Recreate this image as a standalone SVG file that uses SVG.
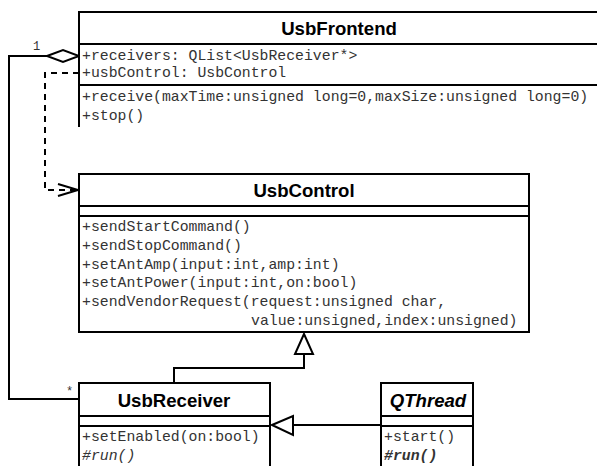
<svg xmlns="http://www.w3.org/2000/svg" width="597" height="466" viewBox="0 0 597 466">
<style>
.box{fill:#fff;stroke:#000;stroke-width:2}
.sep{stroke:#000;stroke-width:2}
.title{font-family:"Liberation Sans",Arial,sans-serif;font-weight:bold;font-size:18.6px;text-anchor:middle;fill:#000}
.mono{font-family:"Liberation Mono","Courier New",monospace;font-size:14.8px;fill:#333}
.lbl{font-family:"Liberation Mono","Courier New",monospace;font-size:12px;fill:#333}
.conn{fill:none;stroke:#000;stroke-width:2}
.head{fill:#fff;stroke:#000;stroke-width:2}
</style>
<rect width="597" height="466" fill="#fff"/>
<g id="connectors">
<polyline class="conn" points="79,399 9,399 9,56 47,56"/>
<polygon class="head" points="47,56 63,50 79,56 63,62"/>
<path class="conn" d="M79,73 H45 V190 H77" stroke-dasharray="6,5"/>
<polyline class="conn" points="58,184 78,190 58,196"/>
<polyline class="conn" points="174,383 174,368 304,368 304,354"/>
<polygon class="head" points="304,334 295,354 313,354"/>
<line class="conn" x1="381" y1="425" x2="293" y2="425"/>
<polygon class="head" points="272,425 293,416 293,435"/>
<text class="lbl" x="33" y="50">1</text>
<text class="lbl" x="66" y="395">*</text>
</g>
<g id="UsbFrontend">
<path class="box" d="M79,127 V12 H602 V127"/>
<rect x="80" y="13" width="520" height="114" fill="#fff"/>
<path class="conn" d="M79,127 V12 H602"/>
<line class="sep" x1="79" y1="44" x2="600" y2="44"/>
<line class="sep" x1="79" y1="85" x2="600" y2="85"/>
<text class="title" x="339" y="35">UsbFrontend</text>
<text class="mono" x="82" y="60">+receivers: QList&lt;UsbReceiver*&gt;</text>
<text class="mono" x="82" y="77">+usbControl: UsbControl</text>
<text class="mono" x="82" y="101">+receive(maxTime:unsigned long=0,maxSize:unsigned long=0)</text>
<text class="mono" x="82" y="120">+stop()</text>
</g>
<g id="UsbControl">
<rect class="box" x="79" y="174" width="450" height="158"/>
<line class="sep" x1="79" y1="206" x2="529" y2="206"/>
<line class="sep" x1="79" y1="216" x2="529" y2="216"/>
<text class="title" x="304" y="197">UsbControl</text>
<text class="mono" x="82" y="231">+sendStartCommand()</text>
<text class="mono" x="82" y="250">+sendStopCommand()</text>
<text class="mono" x="82" y="269">+setAntAmp(input:int,amp:int)</text>
<text class="mono" x="82" y="287">+setAntPower(input:int,on:bool)</text>
<text class="mono" x="82" y="306">+sendVendorRequest(request:unsigned char,</text>
<text class="mono" x="251" y="325">value:unsigned,index:unsigned)</text>
</g>
<g id="UsbReceiver">
<rect x="79" y="383" width="191" height="90" fill="#fff"/>
<path class="conn" d="M79,470 V383 H270 V470"/>
<line class="sep" x1="79" y1="416" x2="270" y2="416"/>
<line class="sep" x1="79" y1="426" x2="270" y2="426"/>
<text class="title" x="174" y="407">UsbReceiver</text>
<text class="mono" x="82" y="441">+setEnabled(on:bool)</text>
<text class="mono" x="82" y="460" font-style="italic">#run()</text>
</g>
<g id="QThread">
<rect x="381" y="383" width="92" height="90" fill="#fff"/>
<path class="conn" d="M381,470 V383 H473 V470"/>
<line class="sep" x1="381" y1="416" x2="473" y2="416"/>
<line class="sep" x1="381" y1="426" x2="473" y2="426"/>
<text class="title" x="428" y="407" font-style="italic">QThread</text>
<text class="mono" x="384" y="441">+start()</text>
<text class="mono" x="384" y="460" font-style="italic" font-weight="bold">#run()</text>
</g>
</svg>
